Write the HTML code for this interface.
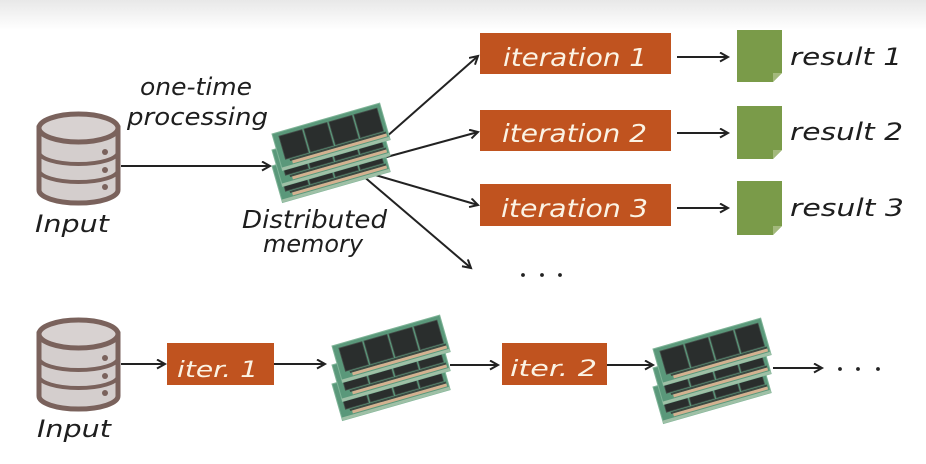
<!DOCTYPE html>
<html>
<head>
<meta charset="utf-8">
<style>
  html, body { margin:0; padding:0; background:#fff; }
  svg { display:block; }
  .lbl { font-family:"DejaVu Sans","Liberation Sans",sans-serif; font-style:italic; fill:#1e1e1e; }
  .btx { font-family:"DejaVu Sans","Liberation Sans",sans-serif; font-style:italic; fill:#fbf3e4; }
</style>
</head>
<body>
<svg width="926" height="464" viewBox="0 0 926 464" xmlns="http://www.w3.org/2000/svg">
  <defs>
    <linearGradient id="topg" x1="0" y1="0" x2="0" y2="1">
      <stop offset="0" stop-color="#e8e8e8"/>
      <stop offset="1" stop-color="#ffffff"/>
    </linearGradient>
    <marker id="ah" markerWidth="12" markerHeight="12" refX="9" refY="5" orient="auto" markerUnits="userSpaceOnUse">
      <path d="M1,0.5 L9,5 L1,9.5" fill="none" stroke="#222" stroke-width="2" stroke-linejoin="miter"/>
    </marker>
    <g id="mod">
      <rect x="0" y="0" width="112" height="38" fill="#5a987a" stroke="#7fb497" stroke-width="1"/>
      <rect x="6" y="4" width="24" height="24" fill="#2a2e2d" stroke="#44504a" stroke-width="0.8"/>
      <rect x="32" y="4" width="24" height="24" fill="#2a2e2d" stroke="#44504a" stroke-width="0.8"/>
      <rect x="58" y="4" width="24" height="24" fill="#2a2e2d" stroke="#44504a" stroke-width="0.8"/>
      <rect x="84" y="4" width="24" height="24" fill="#2a2e2d" stroke="#44504a" stroke-width="0.8"/>
      <rect x="10" y="29" width="100" height="2" fill="#3c4a42"/>
      <rect x="12" y="31" width="98" height="3" fill="#d3b190"/>
      <rect x="0" y="35" width="112" height="3" fill="#9fc0a6"/>
    </g>
    <g id="stack20">
      <use href="#mod" transform="translate(0,38) rotate(-16)"/>
      <use href="#mod" transform="translate(0,19) rotate(-16)"/>
      <use href="#mod" transform="rotate(-16)"/>
    </g>
    <g id="stack17">
      <use href="#mod" transform="translate(0,32) rotate(-16)"/>
      <use href="#mod" transform="translate(0,16) rotate(-16)"/>
      <use href="#mod" transform="rotate(-16)"/>
    </g>
    <g id="db">
      <path d="M39,128 L39,190 A39.5,13 0 0 0 118,190 L118,128 Z" fill="#d4cecd" stroke="#7a625c" stroke-width="5"/>
      <ellipse cx="78.5" cy="128" rx="39.5" ry="14" fill="#d8d2d1" stroke="#7a625c" stroke-width="5"/>
      <path d="M39,152 A39.5,12 0 0 0 118,152" fill="none" stroke="#7a625c" stroke-width="4"/>
      <path d="M39,170 A39.5,12 0 0 0 118,170" fill="none" stroke="#7a625c" stroke-width="4"/>
      <circle cx="105" cy="152" r="3" fill="#7a625c"/>
      <circle cx="105" cy="170" r="3" fill="#7a625c"/>
      <circle cx="105" cy="187" r="3" fill="#7a625c"/>
    </g>
  </defs>

  <rect x="0" y="0" width="926" height="30" fill="url(#topg)"/>

  <!-- ===== TOP ROW ===== -->
  <use href="#db"/>
  <text class="lbl" x="35" y="232" font-size="24" textLength="74" lengthAdjust="spacingAndGlyphs">Input</text>

  <text class="lbl" x="140" y="95" font-size="24" textLength="112" lengthAdjust="spacingAndGlyphs">one-time</text>
  <text class="lbl" x="127" y="125" font-size="24" textLength="141" lengthAdjust="spacingAndGlyphs">processing</text>

  <line x1="121" y1="166" x2="270" y2="166" stroke="#222" stroke-width="2" marker-end="url(#ah)"/>

  <line x1="385" y1="138" x2="478" y2="56" stroke="#222" stroke-width="2" marker-end="url(#ah)"/>
  <line x1="383" y1="158" x2="478" y2="132" stroke="#222" stroke-width="2" marker-end="url(#ah)"/>
  <line x1="365" y1="172" x2="478" y2="205" stroke="#222" stroke-width="2" marker-end="url(#ah)"/>
  <line x1="362" y1="175" x2="471" y2="268" stroke="#222" stroke-width="2" marker-end="url(#ah)"/>

  <use href="#stack17" transform="translate(272,134)"/>

  <text class="lbl" x="242" y="228" font-size="25" textLength="145" lengthAdjust="spacingAndGlyphs">Distributed</text>
  <text class="lbl" x="263" y="252" font-size="24" textLength="100" lengthAdjust="spacingAndGlyphs">memory</text>

  <!-- iteration boxes -->
  <rect x="480" y="33" width="191" height="41" fill="#c0531f"/>
  <rect x="480" y="110" width="191" height="41" fill="#c0531f"/>
  <rect x="480" y="184" width="191" height="42" fill="#c0531f"/>
  <text class="btx" x="503" y="66" font-size="25" textLength="144" lengthAdjust="spacingAndGlyphs">iteration 1</text>
  <text class="btx" x="502" y="142" font-size="25" textLength="145" lengthAdjust="spacingAndGlyphs">iteration 2</text>
  <text class="btx" x="501" y="217" font-size="25" textLength="147" lengthAdjust="spacingAndGlyphs">iteration 3</text>

  <line x1="677" y1="57" x2="728" y2="57" stroke="#222" stroke-width="2" marker-end="url(#ah)"/>
  <line x1="677" y1="133" x2="728" y2="133" stroke="#222" stroke-width="2" marker-end="url(#ah)"/>
  <line x1="677" y1="208" x2="728" y2="208" stroke="#222" stroke-width="2" marker-end="url(#ah)"/>

  <!-- result docs -->
  <path d="M737,30 L782,30 L782,73 L773,82 L737,82 Z" fill="#7a9b49"/>
  <path d="M782,73 L773,82 L773,73 Z" fill="#a3b97c"/>
  <path d="M737,106 L782,106 L782,150 L773,159 L737,159 Z" fill="#7a9b49"/>
  <path d="M782,150 L773,159 L773,150 Z" fill="#a3b97c"/>
  <path d="M737,181 L782,181 L782,226 L773,235 L737,235 Z" fill="#7a9b49"/>
  <path d="M782,226 L773,235 L773,226 Z" fill="#a3b97c"/>

  <text class="lbl" x="790" y="65" font-size="24" textLength="112" lengthAdjust="spacingAndGlyphs">result 1</text>
  <text class="lbl" x="790" y="140" font-size="24" textLength="113" lengthAdjust="spacingAndGlyphs">result 2</text>
  <text class="lbl" x="790" y="216" font-size="24" textLength="114" lengthAdjust="spacingAndGlyphs">result 3</text>

  <circle cx="523" cy="275" r="1.9" fill="#222"/>
  <circle cx="542" cy="275" r="1.9" fill="#222"/>
  <circle cx="560" cy="275" r="1.9" fill="#222"/>

  <!-- ===== BOTTOM ROW ===== -->
  <use href="#db" transform="translate(0,206)"/>
  <text class="lbl" x="37" y="437" font-size="24" textLength="74" lengthAdjust="spacingAndGlyphs">Input</text>

  <line x1="121" y1="364" x2="165" y2="364" stroke="#222" stroke-width="2" marker-end="url(#ah)"/>
  <rect x="167" y="343" width="107" height="42" fill="#c0531f"/>
  <text class="btx" x="177" y="377" font-size="22" textLength="81" lengthAdjust="spacingAndGlyphs">iter. 1</text>
  <line x1="274" y1="364" x2="325" y2="364" stroke="#222" stroke-width="2" marker-end="url(#ah)"/>

  <use href="#stack20" transform="translate(332,346)"/>

  <line x1="450" y1="365" x2="498" y2="365" stroke="#222" stroke-width="2" marker-end="url(#ah)"/>
  <rect x="502" y="343" width="105" height="42" fill="#c0531f"/>
  <text class="btx" x="510" y="376" font-size="22" textLength="87" lengthAdjust="spacingAndGlyphs">iter. 2</text>
  <line x1="607" y1="365" x2="653" y2="365" stroke="#222" stroke-width="2" marker-end="url(#ah)"/>

  <use href="#stack20" transform="translate(653,349)"/>

  <line x1="773" y1="368" x2="822" y2="368" stroke="#222" stroke-width="2" marker-end="url(#ah)"/>
  <circle cx="840" cy="369" r="1.9" fill="#222"/>
  <circle cx="858" cy="369" r="1.9" fill="#222"/>
  <circle cx="878" cy="369" r="1.9" fill="#222"/>
</svg>
</body>
</html>
